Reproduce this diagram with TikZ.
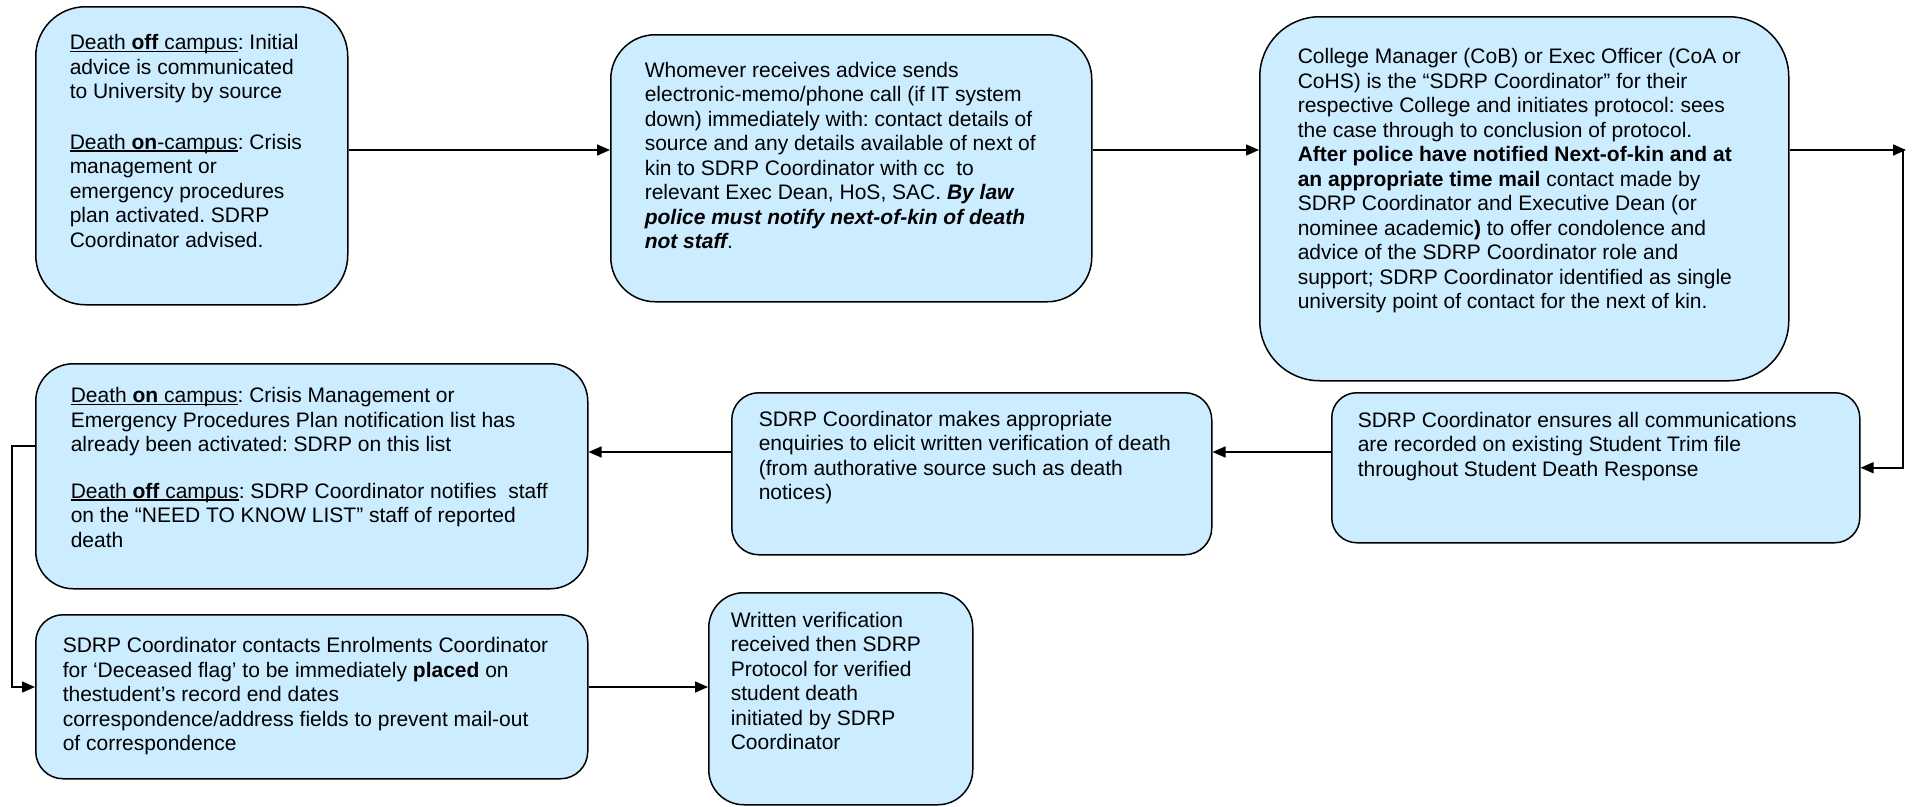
\documentclass[tikz,border=0pt]{standalone}
\usepackage{fontspec}
\setmainfont{Liberation Sans}
\usetikzlibrary{arrows.meta}
\definecolor{boxfill}{RGB}{204,236,255}
\frenchspacing
\newcommand{\ulx}[1]{\leavevmode\setbox0=\hbox{#1}\rlap{\rule[-2.3pt]{\wd0}{1.3pt}}\box0}
\newcommand{\bi}[1]{{\bfseries\itshape #1}}
\newcommand{\boxtext}[5]{\parbox[t][#2][t]{#1}{\fontsize{21pt}{24.5pt}\selectfont\frenchspacing\vspace*{\dimexpr#4-16pt\relax}\raggedright\leftskip=#3\relax\rule{0pt}{16pt}#5\par}}
\tikzset{
  flowbox/.style={draw=black, line width=1.5pt, fill=boxfill, inner sep=0pt, anchor=north west},
  arr/.style={line width=1.5pt, -{Triangle[length=13pt,width=11pt]}}
}
\begin{document}
\begin{tikzpicture}[x=1pt,y=-1pt]
\useasboundingbox (0,0) rectangle (1914,806);
\node[flowbox, rounded corners=49.7pt] (b1) at (35,6) {\boxtext{312pt}{298pt}{34pt}{43pt}{%
\ulx{Death \textbf{off} campus}: Initial\\
advice is communicated\\
to University by source\\[26pt]
\ulx{Death \textbf{on}-campus}: Crisis\\
management or\\
emergency procedures\\
plan activated. SDRP\\
Coordinator advised.}};
\node[flowbox, rounded corners=44.5pt] (b2) at (610,34) {\boxtext{481pt}{267pt}{34pt}{42.7pt}{%
Whomever receives advice sends\\
electronic-memo/phone call (if IT system\\
down) immediately with: contact details of\\
source and any details available of next of\\
kin to SDRP Coordinator with cc\ \ to\\
relevant Exec Dean, HoS, SAC. \bi{By law}\\
\bi{police must notify next-of-kin of death}\\
\bi{not staff}.}};
\node[flowbox, rounded corners=60pt] (b3) at (1259,16) {\boxtext{529pt}{364pt}{38pt}{47pt}{%
College Manager (CoB) or Exec Officer (CoA or\\
CoHS) is the “SDRP Coordinator” for their\\
respective College and initiates protocol: sees\\
the case through to conclusion of protocol.\\
\textbf{After police have notified Next-of-kin and at}\\
\textbf{an appropriate time mail} contact made by\\
SDRP Coordinator and Executive Dean (or\\
nominee academic\textbf{)} to offer condolence and\\
advice of the SDRP Coordinator role and\\
support; SDRP Coordinator identified as single\\
university point of contact for the next of kin.}};
\node[flowbox, rounded corners=37.5pt] (b4) at (35,363) {\boxtext{552pt}{225pt}{35pt}{39pt}{%
\ulx{Death \textbf{on} campus}: Crisis Management or\\
Emergency Procedures Plan notification list has\\
already been activated: SDRP on this list\\[22pt]
\ulx{Death \textbf{off} campus}: SDRP Coordinator notifies\ \ staff\\
on the “NEED TO KNOW LIST” staff of reported\\
death}};
\node[flowbox, rounded corners=27pt] (b5) at (731,392) {\boxtext{480pt}{162pt}{27pt}{33.5pt}{%
SDRP Coordinator makes appropriate\\
enquiries to elicit written verification of death\\
(from authorative source such as death\\
notices)}};
\node[flowbox, rounded corners=25pt] (b6) at (1331,392) {\boxtext{528pt}{150pt}{26pt}{34.5pt}{%
SDRP Coordinator ensures all communications\\
are recorded on existing Student Trim file\\
throughout Student Death Response}};
\node[flowbox, rounded corners=27.3pt] (b7) at (35,614) {\boxtext{552pt}{164pt}{27pt}{38pt}{%
SDRP Coordinator contacts Enrolments Coordinator\\
for ‘Deceased flag’ to be immediately \textbf{placed} on\\
thestudent’s record end dates\\
correspondence/address fields to prevent mail-out\\
of correspondence}};
\node[flowbox, rounded corners=35pt] (b8) at (708,592) {\boxtext{264pt}{212pt}{22pt}{34.7pt}{%
Written verification\\
received then SDRP\\
Protocol for verified\\
student death\\
initiated by SDRP\\
Coordinator}};
\coordinate (ya) at (0,150);
\coordinate (yb) at (0,452);
\coordinate (yc) at (0,446);
\coordinate (yd) at (0,687);
\coordinate (tr) at (1906,150);
\coordinate (trv) at (1903,150);
\coordinate (lx) at (12,446);
\draw[arr] (b1.east |- ya) -- (b2.west |- ya);
\draw[arr] (b2.east |- ya) -- (b3.west |- ya);
\draw[arr] (b3.east |- ya) -- (tr);
\draw[arr] (trv) |- (b6.east);
\draw[arr] (b6.west |- yb) -- (b5.east |- yb);
\draw[arr] (b5.west |- yb) -- (b4.east |- yb);
\draw[arr] (b4.west |- yc) -- (lx) |- (b7.west |- yd);
\draw[arr] (b7.east |- yd) -- (b8.west |- yd);
\end{tikzpicture}
\end{document}
